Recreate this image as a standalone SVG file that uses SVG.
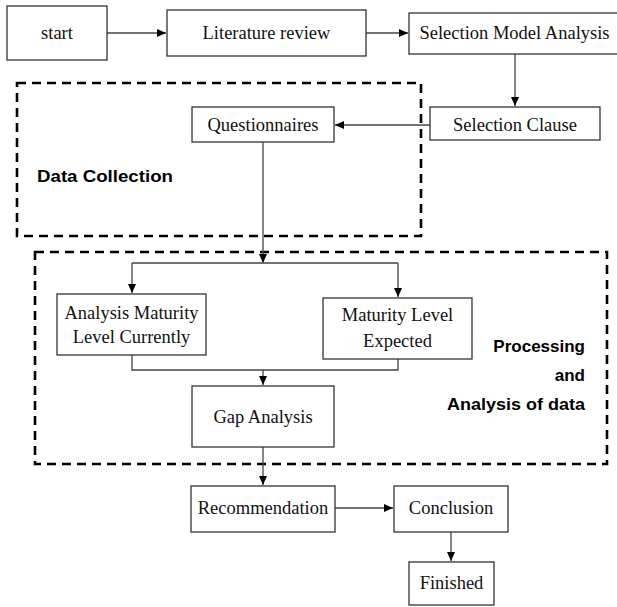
<svg xmlns="http://www.w3.org/2000/svg" width="617" height="607" viewBox="0 0 617 607">
<style>
.box{fill:#fff;stroke:#333;stroke-width:1.3}
.t{font-family:"Liberation Serif","Times New Roman",serif;font-size:18.5px;fill:#111;text-anchor:middle}
.lbl{font-family:"Liberation Sans",Arial,sans-serif;font-size:17px;font-weight:bold;fill:#000}
.dash{fill:none;stroke:#000;stroke-width:2.6;stroke-dasharray:9 6}
.c{fill:none;stroke:#444;stroke-width:1.3}
</style>
<defs>
<marker id="ah" markerUnits="userSpaceOnUse" markerWidth="10" markerHeight="10" refX="9" refY="4" orient="auto">
<path d="M0,0 L9,4 L0,8 Z" fill="#000"/>
</marker>
</defs>
<rect width="617" height="607" fill="#fff"/>
<g id="groups">
<rect class="dash" x="17" y="83" width="404" height="153"/>
<rect class="dash" x="35" y="252" width="572" height="212"/>
<text class="lbl" x="37" y="182" textLength="136" lengthAdjust="spacingAndGlyphs">Data Collection</text>
<text class="lbl" x="585" y="352" text-anchor="end">Processing</text>
<text class="lbl" x="585" y="381" text-anchor="end">and</text>
<text class="lbl" x="447" y="410" textLength="138" lengthAdjust="spacingAndGlyphs">Analysis of data</text>
</g>
<g id="connectors">
<path class="c" d="M107 33 H166" marker-end="url(#ah)"/>
<path class="c" d="M366 33 H408" marker-end="url(#ah)"/>
<path class="c" d="M515 54 V106" marker-end="url(#ah)"/>
<path class="c" d="M430 125 H335" marker-end="url(#ah)"/>
<path class="c" d="M263 142 V263" marker-end="url(#ah)"/>
<path class="c" d="M132 263 H398"/>
<path class="c" d="M132 263 V293" marker-end="url(#ah)"/>
<path class="c" d="M398 263 V297" marker-end="url(#ah)"/>
<path class="c" d="M132 355 V370 H398 V359"/>
<path class="c" d="M263 370 V385" marker-end="url(#ah)"/>
<path class="c" d="M263 447 V485" marker-end="url(#ah)"/>
<path class="c" d="M335 508 H393" marker-end="url(#ah)"/>
<path class="c" d="M451 532 V561" marker-end="url(#ah)"/>
</g>
<g id="start"><rect class="box" x="7" y="6" width="100" height="54"/><text class="t" x="57" y="39">start</text></g>
<g id="literature"><rect class="box" x="167" y="10" width="199" height="46"/><text class="t" x="266.5" y="39">Literature review</text></g>
<g id="selmodel"><rect class="box" x="409" y="13" width="212" height="41"/><text class="t" x="514.5" y="39">Selection Model Analysis</text></g>
<g id="selclause"><rect class="box" x="430" y="107" width="170" height="33"/><text class="t" x="515" y="131">Selection Clause</text></g>
<g id="questionnaires"><rect class="box" x="192" y="107" width="142" height="35"/><text class="t" x="263" y="131">Questionnaires</text></g>
<g id="current"><rect class="box" x="57" y="294" width="149" height="61"/><text class="t" x="131.5" y="319">Analysis Maturity</text><text class="t" x="131.5" y="343">Level Currently</text></g>
<g id="expected"><rect class="box" x="323" y="298" width="149" height="61"/><text class="t" x="397.5" y="321">Maturity Level</text><text class="t" x="397.5" y="347">Expected</text></g>
<g id="gap"><rect class="box" x="192" y="386" width="142" height="61"/><text class="t" x="263" y="423">Gap Analysis</text></g>
<g id="recommendation"><rect class="box" x="191" y="486" width="144" height="46"/><text class="t" x="263" y="514">Recommendation</text></g>
<g id="conclusion"><rect class="box" x="394" y="486" width="114" height="46"/><text class="t" x="451" y="514">Conclusion</text></g>
<g id="finished"><rect class="box" x="409" y="562" width="85" height="43"/><text class="t" x="451.5" y="589">Finished</text></g>
</svg>
